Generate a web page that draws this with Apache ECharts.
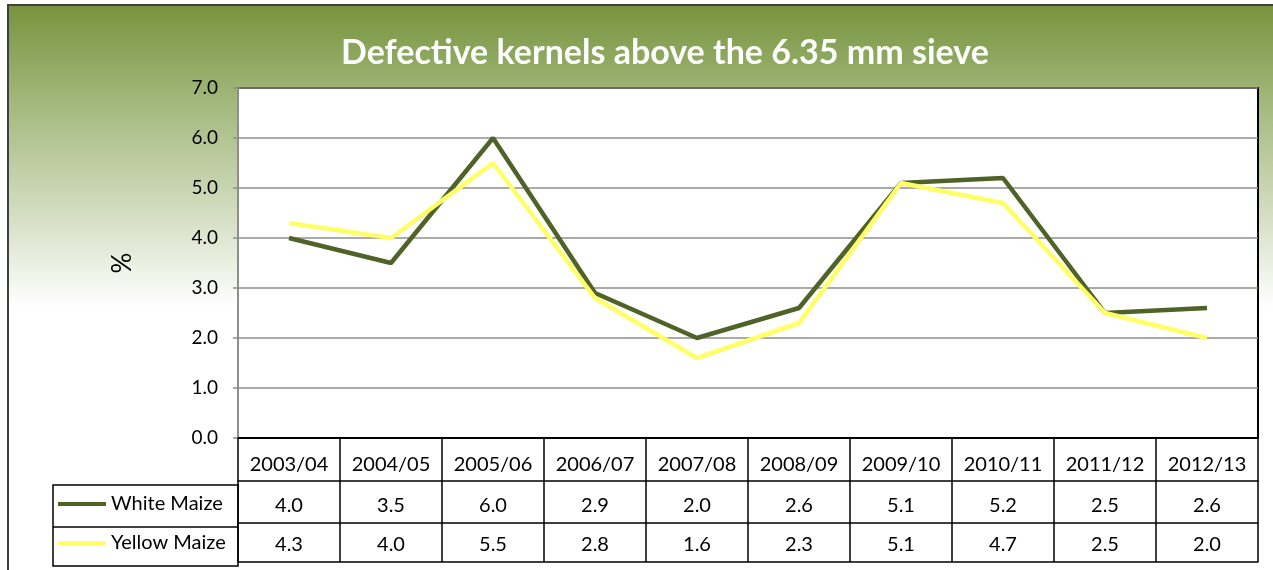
<!DOCTYPE html>
<html>
<head>
<meta charset="utf-8">
<script src="https://cdn.jsdelivr.net/npm/echarts@6/dist/echarts.min.js"></script>
<style>
  html, body { margin: 0; padding: 0; background: #fff; }
  #chart { width: 1273px; height: 570px; }
</style>
</head>
<body>
<div id="chart"></div>
<script>
const seasons = ["2003/04", "2004/05", "2005/06", "2006/07", "2007/08", "2008/09", "2009/10", "2010/11", "2011/12", "2012/13"];
const whiteMaize = [4.0, 3.5, 6.0, 2.9, 2.0, 2.6, 5.1, 5.2, 2.5, 2.6];
const yellowMaize = [4.3, 4.0, 5.5, 2.8, 1.6, 2.3, 5.1, 4.7, 2.5, 2.0];
const yTicks = [0, 7, 1]; // min, max, interval

const FONT = "Lato";
const fmt = (v) => v.toFixed(1);

var chart = echarts.init(document.getElementById("chart"));

// extra bottom axis used as a table row
function tableRow(values, offset, margin) {
  return {
    type: "category",
    gridIndex: 0,
    position: "bottom",
    offset: offset,
    data: values,
    axisLine: { show: true, lineStyle: { color: "#000", width: 1.5 } },
    axisTick: { show: false },
    axisLabel: { color: "#000", fontFamily: FONT, fontSize: 20, margin: margin, interval: 0 },
  };
}

var option = {
  animation: false,
  title: {
    text: "Defective kernels above the 6.35 mm sieve",
    left: 336,
    top: 31,
    textStyle: { color: "#fff", fontFamily: FONT, fontWeight: "bold", fontSize: 34 },
  },
  legend: {
    orient: "vertical",
    left: 53,
    top: 487,
    itemGap: 15,
    icon: "rect",
    itemWidth: 48,
    itemHeight: 4,
    textStyle: { color: "#000", fontFamily: FONT, fontSize: 20, lineHeight: 24 },
    data: ["White Maize", "Yellow Maize"],
  },
  graphic: [
    {
      type: "rect",
      z: -10,
      silent: true,
      shape: { x: 8, y: 5, width: 1270, height: 570 },
      style: {
        fill: {
          type: "linear", x: 0, y: 0, x2: 0, y2: 1,
          colorStops: [
            { offset: 0, color: "#76933c" },
            { offset: 0.17, color: "#a2b87c" },
            { offset: 0.36, color: "#d2dcbf" },
            { offset: 0.53, color: "#ffffff" },
            { offset: 1, color: "#ffffff" },
          ],
        },
        stroke: "#404040",
        lineWidth: 2,
      },
    },
    {
      type: "rect",
      silent: true,
      shape: { x: 53, y: 485, width: 185, height: 81 },
      style: { fill: "#fff", stroke: "#000", lineWidth: 1.5 },
    },
    {
      type: "line",
      silent: true,
      shape: { x1: 53, y1: 527, x2: 238, y2: 527 },
      style: { stroke: "#000", lineWidth: 1.5 },
    },
  ],
  grid: {
    left: 238,
    right: 15,
    top: 88,
    bottom: 128,
    show: true,
    backgroundColor: "#fff",
    borderColor: "#000",
    borderWidth: 2,
  },
  xAxis: [
    {
      type: "category",
      data: seasons,
      boundaryGap: true,
      axisLine: { show: true, lineStyle: { color: "#000", width: 2 } },
      axisTick: { show: true, length: 124, lineStyle: { color: "#000", width: 1.5 } },
      axisLabel: { color: "#000", fontFamily: FONT, fontSize: 20, margin: 17, interval: 0 },
      splitLine: { show: false },
    },
    tableRow(whiteMaize.map(fmt), 43, 15),
    tableRow(yellowMaize.map(fmt), 85, 12),
    tableRow(seasons.map(() => ""), 124, 8),
  ],
  yAxis: {
    type: "value",
    min: yTicks[0],
    max: yTicks[1],
    interval: yTicks[2],
    name: "%",
    nameLocation: "middle",
    nameGap: 102,
    nameRotate: 90,
    nameTextStyle: { color: "#000", fontFamily: FONT, fontSize: 26 },
    axisLine: { show: true, lineStyle: { color: "#8e8e8e", width: 2 } },
    axisTick: { show: true, length: 5, lineStyle: { color: "#8e8e8e", width: 1.5 } },
    axisLabel: { color: "#000", fontFamily: FONT, fontSize: 19, margin: 20, formatter: (v) => v.toFixed(1) },
    splitLine: { show: true, lineStyle: { color: "#8e8e8e", width: 1.5 } },
  },
  series: [
    {
      name: "White Maize",
      type: "line",
      data: whiteMaize,
      showSymbol: false,
      symbol: "none",
      color: "#4f6228",
      lineStyle: { color: "#4f6228", width: 4.5 },
    },
    {
      name: "Yellow Maize",
      type: "line",
      data: yellowMaize,
      showSymbol: false,
      symbol: "none",
      color: "#ffff66",
      lineStyle: { color: "#ffff66", width: 4.5 },
    },
  ],
};

chart.setOption(option);
</script>
</body>
</html>
